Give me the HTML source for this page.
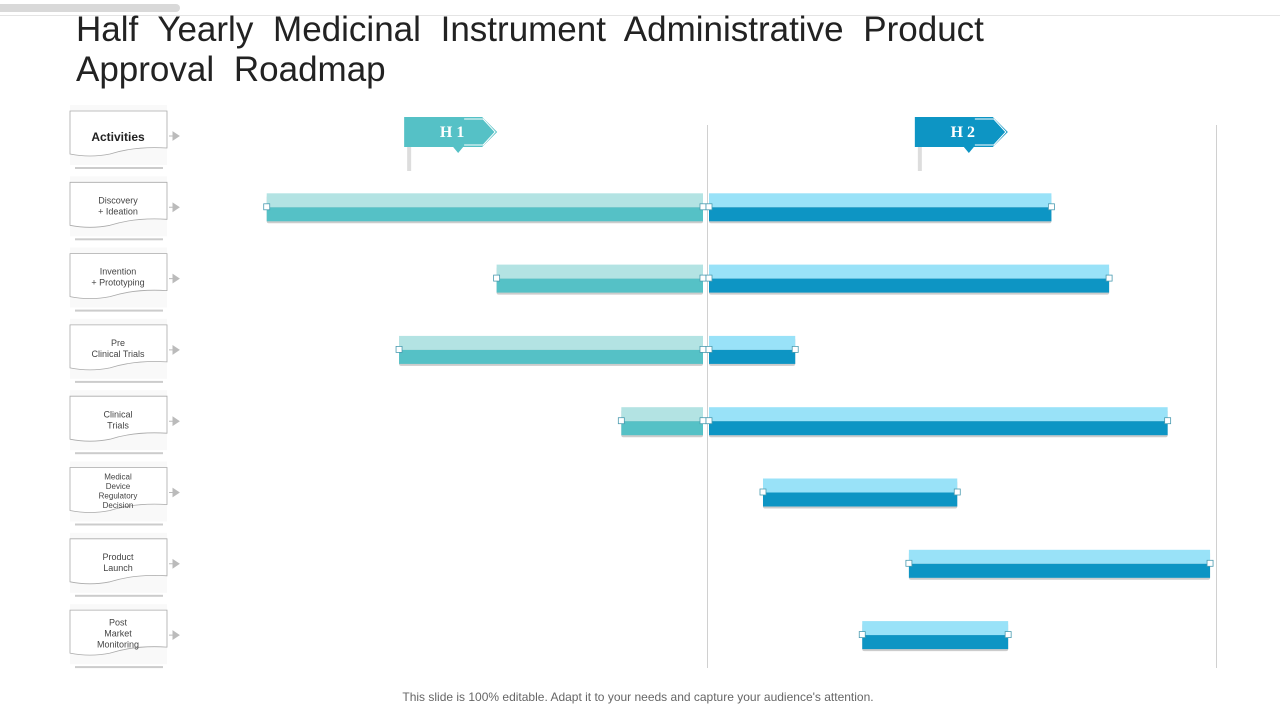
<!DOCTYPE html>
<html><head><meta charset="utf-8">
<style>
body{margin:0;width:1280px;height:720px;background:#fff;font-family:"Liberation Sans",sans-serif;overflow:hidden;position:relative}
.abs{position:absolute}
.title{left:76px;top:10px;font-size:35px;line-height:40px;color:#222;word-spacing:10px}
.foot{left:0;width:1276px;top:690px;text-align:center;font-size:12px;color:#666}
</style></head><body>
<div class="abs" style="left:0;top:4px;width:180px;height:8px;background:#d9d9d9;border-radius:0 4px 4px 0"></div>
<div class="abs" style="left:0;top:15px;width:1280px;height:1px;background:#e4e4e4"></div>
<div class="abs title">Half Yearly Medicinal Instrument Administrative Product<br>Approval Roadmap</div>
<svg id="chart" class="abs" style="left:0;top:0" width="1280" height="720"></svg>
<div class="abs foot">This slide is 100% editable. Adapt it to your needs and capture your audience's attention.</div>
<script>
const activities=["Activities","Discovery\n+ Ideation","Invention\n+ Prototyping","Pre\nClinical Trials","Clinical\nTrials","Medical\nDevice\nRegulatory\nDecision","Product\nLaunch","Post\nMarket\nMonitoring"];
const h1Start=[0.81,3.52,2.37,4.99,null,null,null];
const h2End=[10.06,10.74,7.04,11.43,8.95,11.93,9.55];
const h2Start=[6,6,6,6,6.66,8.38,7.83];
const halfLabels=["H 1","H 2"];
const halfFlagMonth=[2.43,8.45];
const NS="http://www.w3.org/2000/svg";
const svg=document.getElementById('chart');
const x=m=>198+m*(1018/12);
const rowY=i=>136+i*71.3;
function el(t,a,p){const e=document.createElementNS(NS,t);for(const k in a)e.setAttribute(k,a[k]);(p||svg).appendChild(e);return e;}
[6,12].forEach(m=>{const l=el('line',{x1:x(m)+0.5,x2:x(m)+0.5,y1:125,y2:668,stroke:'#d0d0d0','stroke-width':1});

});
halfLabels.forEach((lab,i)=>{const fx=x(halfFlagMonth[i]);const c=i?'#0d95c4':'#55c1c6';
const g=el('g',{});


el('rect',{x:fx+3,y:147,width:4,height:24,fill:'#ddd'},g);
el('path',{d:`M${fx} 117 H${fx+78} L${fx+93} 132 L${fx+78} 147 H${fx+59} L${fx+54} 153 L${fx+49} 147 H${fx} Z`,fill:c},g);
el('path',{d:`M${fx+60} 119 H${fx+79} L${fx+91} 132 L${fx+79} 145 H${fx+60}`,fill:'none',stroke:'#fff','stroke-width':1},g);
const t=el('text',{x:fx+48,y:137,'text-anchor':'middle','font-family':'Liberation Serif,serif','font-weight':'bold','font-size':16,fill:'#fff'},g);t.textContent=lab;});
activities.forEach((a,i)=>{const cy=rowY(i);const g=el('g',{});


el('rect',{x:70,y:cy-31,width:97,height:60,fill:'#f9f9f9'},g);
el('path',{d:`M70 ${cy-25} H167 V${cy+12} Q135 ${cy+10} 110 ${cy+18} Q90 ${cy+22} 70 ${cy+18} Z`,fill:'#fff',stroke:'#aaa','stroke-width':0.8},g);
el('rect',{x:75,y:cy+31,width:88,height:2,fill:'#ccc'},g);
el('path',{d:`M169 ${cy} H173 M173 ${cy-4} L179 ${cy} L173 ${cy+4} Z`,stroke:'#bbb',fill:'#bbb'},g);
const lines=a.split('\n');const fs=i===0?12:(lines.length>3?8:9);const lh=i===0?0:(lines.length>3?9.5:11);
lines.forEach((ln,k)=>{const t=el('text',{x:118,y:cy-2+(i===0?2:0)+(k-(lines.length-1)/2)*lh+fs/2.5,'text-anchor':'middle','font-size':fs,fill:i===0?'#222':'#444','font-weight':i===0?'bold':'normal'},g);t.textContent=ln;});});
function bar(x1,x2,cy,light,dark,name){const g=el('g',{});


el('rect',{x:x1,y:cy-12,width:x2-x1,height:28,fill:'#ccc',rx:2},g);
el('rect',{x:x1,y:cy-14,width:x2-x1,height:14,fill:light},g);
el('rect',{x:x1,y:cy,width:x2-x1,height:14,fill:dark},g);
[x1,x2].forEach(px=>el('rect',{x:px-3,y:cy-3.5,width:6,height:6,fill:'#fff',stroke:'#4a9bb0','stroke-width':0.8},g));}
h2End.forEach((e,i)=>{const cy=rowY(i+1);
if(h1Start[i]!=null)bar(x(h1Start[i]),x(6)-4,cy,'#b3e3e3','#55c1c6','bar-h1-row'+(i+1));
bar(x(h2Start[i])+(h2Start[i]===6?2:0),x(e),cy,'#99e2f8','#0d95c4','bar-h2-row'+(i+1));});
</script>
</body></html>
